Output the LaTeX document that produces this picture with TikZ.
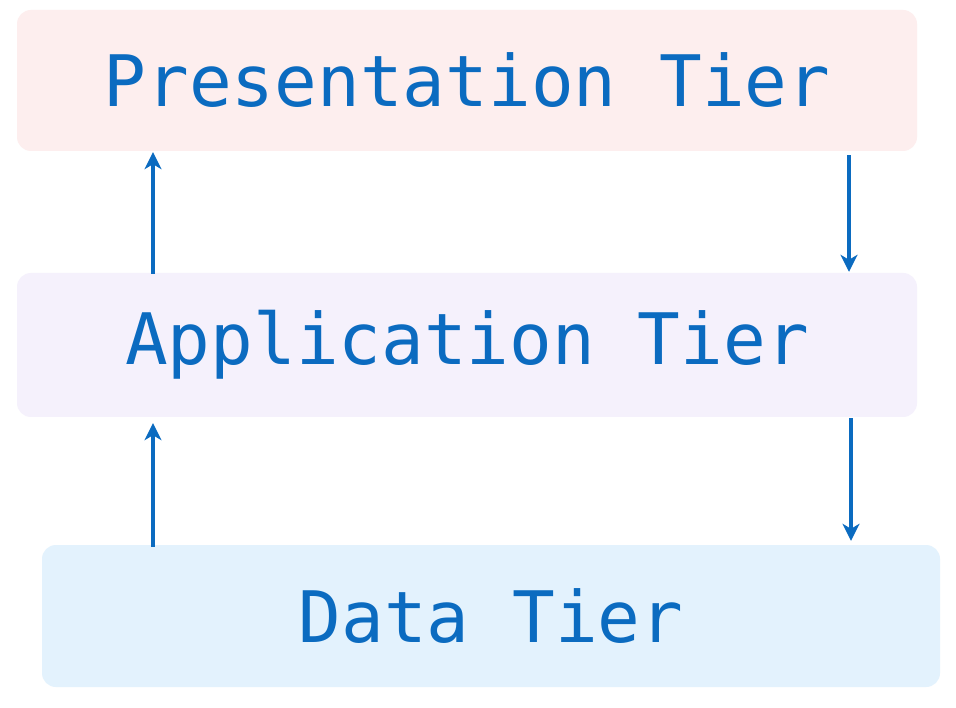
\documentclass[tikz,border=0pt]{standalone}
\usepackage{fontspec}
\setmonofont{DejaVu Sans Mono}
\usetikzlibrary{arrows.meta}
\definecolor{tierblue}{HTML}{0B6BC0}
\definecolor{presfill}{HTML}{FDEEEE}
\definecolor{appfill}{HTML}{F5F1FC}
\definecolor{datafill}{HTML}{E3F2FD}
\begin{document}
\begin{tikzpicture}[x=1pt,y=-1pt,
  tierbox/.style={rectangle, rounded corners=14pt, inner sep=0pt,
    text=tierblue, font=\ttfamily\fontsize{71}{80}\selectfont},
  flow/.style={draw=tierblue, line width=3.5pt,
    -{Stealth[length=17pt,width=17pt,inset=5pt]}}]
\useasboundingbox[fill=white] (0,0) rectangle (956,708);
\node[tierbox, fill=presfill, minimum width=900pt, minimum height=141pt] (pres) at (467,80.5) {Presentation Tier};
\node[tierbox, fill=appfill, minimum width=900pt, minimum height=144pt] (app) at (467,345) {Application Tier};
\node[tierbox, fill=datafill, minimum width=898pt, minimum height=142pt] (data) at (491,616) {Data Tier};
\coordinate (left) at (153,0);
\coordinate (right1) at (849,0);
\coordinate (right2) at (851,0);
\draw[flow] ([yshift=-1pt]app.north -| left) -- ([yshift=-1pt]pres.south -| left);
\draw[flow] ([yshift=-4pt]pres.south -| right1) -- ([yshift=1pt]app.north -| right1);
\draw[flow] ([yshift=-2pt]data.north -| left) -- ([yshift=-6pt]app.south -| left);
\draw[flow] ([yshift=-1pt]app.south -| right2) -- ([yshift=4pt]data.north -| right2);
\end{tikzpicture}
\end{document}
